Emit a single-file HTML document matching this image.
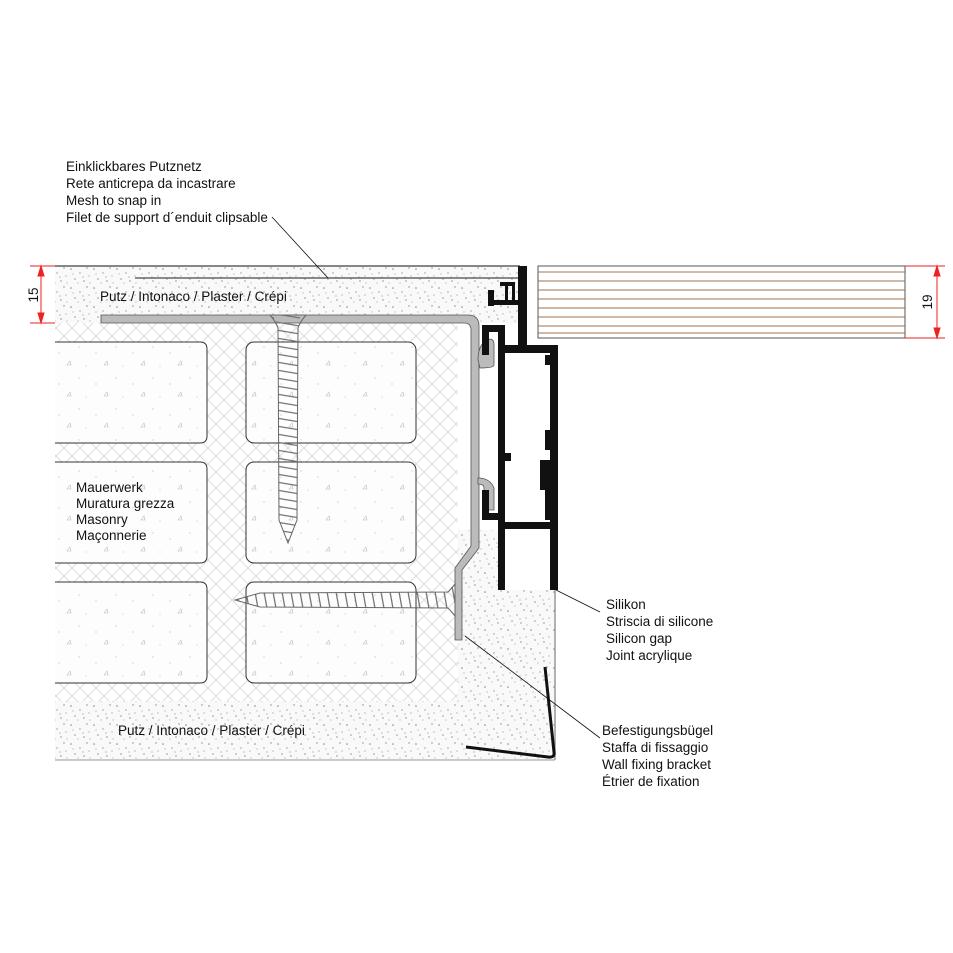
<!DOCTYPE html>
<html><head><meta charset="utf-8"><style>
html,body{margin:0;padding:0;background:#fff}
svg{display:block}
text{font-family:"Liberation Sans",sans-serif;font-size:13.5px;fill:#111}
</style></head><body>
<svg width="953" height="953" viewBox="0 0 953 953" xmlns="http://www.w3.org/2000/svg">
<defs>
<pattern id="dots" width="23" height="19" patternUnits="userSpaceOnUse">
<rect width="23" height="19" fill="#f9f9f9"/>
<circle cx="2" cy="3" r="0.8" fill="#888"/><circle cx="11" cy="7" r="0.7" fill="#999"/>
<circle cx="18" cy="2" r="0.7" fill="#888"/><circle cx="6" cy="13" r="0.8" fill="#999"/>
<circle cx="15" cy="15" r="0.7" fill="#888"/><circle cx="20" cy="10" r="0.6" fill="#999"/>
<circle cx="9" cy="17" r="0.6" fill="#aaa"/><circle cx="4" cy="8" r="0.6" fill="#aaa"/>
<circle cx="14" cy="11" r="0.6" fill="#999"/><circle cx="21" cy="17" r="0.6" fill="#aaa"/>
</pattern>
<pattern id="bdots" width="37" height="31" patternUnits="userSpaceOnUse">
<rect width="37" height="31" fill="#fdfdfd"/>
<circle cx="5" cy="6" r="0.6" fill="#bbb"/><circle cx="22" cy="12" r="0.6" fill="#bbb"/>
<path d="M30 24 l3 -4 l1 4z" fill="none" stroke="#bbb" stroke-width="0.6"/>
<circle cx="12" cy="25" r="0.6" fill="#ccc"/>
</pattern>
<pattern id="hatch" width="16" height="16" patternUnits="userSpaceOnUse">
<rect width="16" height="16" fill="#fff"/>
<path d="M0 0L16 16M16 0L0 16" stroke="#ddd" stroke-width="1"/>
</pattern>
<pattern id="threadV" width="26" height="8" patternUnits="userSpaceOnUse" x="275" y="0">
<path d="M1 2 L25 6" stroke="#777" stroke-width="1.3" fill="none"/>
</pattern>
<pattern id="threadH" width="9" height="30" patternUnits="userSpaceOnUse" x="0" y="585">
<path d="M2 1 L7 29" stroke="#777" stroke-width="1.3" fill="none"/>
</pattern>
</defs>

<rect x="55" y="266" width="465" height="57" fill="url(#dots)"/>
<line x1="55" y1="266" x2="520" y2="266" stroke="#111" stroke-width="1"/>
<line x1="135" y1="278" x2="520" y2="278" stroke="#666" stroke-width="1.5"/>
<rect x="55" y="323" width="403" height="378" fill="url(#hatch)"/>
<path d="M458 530 L505 530 L505 590 L555 590 L555 760 L55 760 L55 701 L450 701 Q458 701 458 693Z" fill="url(#dots)"/>
<line x1="555" y1="590" x2="555" y2="760" stroke="#999" stroke-width="1.5"/>
<line x1="55" y1="760" x2="555" y2="760" stroke="#999" stroke-width="1"/>
<g fill="url(#bdots)" stroke="#333" stroke-width="1">
<path d="M55 342 H200 Q207 342 207 349 V436 Q207 443 200 443 H55"/>
<rect x="246" y="342" width="170" height="101" rx="8"/>
<path d="M55 462 H200 Q207 462 207 469 V556 Q207 563 200 563 H55"/>
<rect x="246" y="462" width="170" height="101" rx="8"/>
<path d="M55 582 H200 Q207 582 207 589 V676 Q207 683 200 683 H55"/>
<rect x="246" y="582" width="170" height="101" rx="8"/>
</g>
<path d="M101 323 V315 H468 Q479 315 479 326 V548 L462 570 V640 H455 V568 L471 546 V330 Q471 323 464 323 Z" fill="#bbb" stroke="#555" stroke-width="0.8"/>
<path d="M478 360 Q478 345 487 340 Q494 337 494 345 V365 Q494 368 480 368Z" fill="#bbb" stroke="#555" stroke-width="0.8"/>
<path d="M478 478 Q490 478 494 488 V510 H484 V488 Q484 484 478 484Z" fill="#bbb" stroke="#555" stroke-width="0.8"/>
<path d="M270 315 H306 Q300 322 298 328 L297 520 L288 543 L279 520 L278 328 Q276 322 270 315Z" fill="url(#threadV)" stroke="#666" stroke-width="1"/>
<path d="M455 584 Q450 590 448 592 L260 593 L235 600 L260 607 L448 608 Q450 610 455 616Z" fill="url(#threadH)" stroke="#666" stroke-width="1"/>
<g fill="#111">
<rect x="518" y="266" width="9" height="80"/>
<rect x="482" y="325" width="23" height="7"/>
<rect x="482" y="325" width="7" height="30"/>
<rect x="482" y="490" width="7" height="30"/>
<rect x="482" y="513" width="23" height="7"/>
<rect x="498" y="325" width="7" height="265"/>
<rect x="505" y="345" width="53" height="8"/>
<rect x="550" y="345" width="8" height="245"/>
<rect x="505" y="522" width="53" height="7"/>
<rect x="545" y="355" width="6" height="10"/>
<rect x="545" y="430" width="6" height="20"/>
<path d="M540 460 H552 L556 468 L552 476 L556 484 L552 492 L556 500 L552 508 L556 516 L552 520 H545 V490 H540Z"/>
<rect x="505" y="453" width="6" height="8"/>
<rect x="488" y="290" width="6" height="16"/>
<rect x="488" y="300" width="32" height="5"/>
<path d="M500 282 H515 V300 H512 V286 H508 V300 H505 V286 H500Z"/>
</g>
<rect x="538" y="266" width="367" height="72" fill="#fff" stroke="#555" stroke-width="1"/>
<g stroke="#a0704a" stroke-width="1">
<line x1="538" y1="272" x2="905" y2="272"/><line x1="538" y1="281" x2="905" y2="281"/>
<line x1="538" y1="290" x2="905" y2="290"/><line x1="538" y1="299" x2="905" y2="299"/>
<line x1="538" y1="308" x2="905" y2="308"/><line x1="538" y1="317" x2="905" y2="317"/>
<line x1="538" y1="326" x2="905" y2="326"/><line x1="538" y1="333" x2="905" y2="333"/>
</g>
<path d="M545 667 L554 752 Q555 758 548 757 L466 747" fill="none" stroke="#111" stroke-width="3"/>
<g stroke="#e22" stroke-width="1" fill="#e22">
<line x1="41" y1="266" x2="41" y2="323"/>
<line x1="30" y1="266" x2="55" y2="266"/><line x1="30" y1="323" x2="55" y2="323"/>
<path d="M41 266 l-3 10 h6z"/><path d="M41 323 l-3 -10 h6z"/>
<line x1="937" y1="266" x2="937" y2="338"/>
<line x1="905" y1="266" x2="945" y2="266"/><line x1="905" y1="338" x2="945" y2="338"/>
<path d="M937 266 l-3 10 h6z"/><path d="M937 338 l-3 -10 h6z"/>
</g>
<text transform="translate(38,295) rotate(-90)" text-anchor="middle" font-size="14">15</text>
<text transform="translate(932,302) rotate(-90)" text-anchor="middle" font-size="14">19</text>
<g stroke="#111" stroke-width="0.8" fill="none">
<path d="M272 217 L328 278"/>
<path d="M556 590 L600 612"/>
<path d="M465 636 L600 738"/>
</g>
<text x="66" y="171">Einklickbares Putznetz</text>
<text x="66" y="188">Rete anticrepa da incastrare</text>
<text x="66" y="205">Mesh to snap in</text>
<text x="66" y="222">Filet de support d´enduit clipsable</text>
<text x="100" y="301">Putz / Intonaco / Plaster / Crépi</text>
<text x="118" y="735">Putz / Intonaco / Plaster / Crépi</text>
<text x="76" y="492">Mauerwerk</text>
<text x="76" y="508">Muratura grezza</text>
<text x="76" y="524">Masonry</text>
<text x="76" y="540">Maçonnerie</text>
<text x="606" y="609">Silikon</text>
<text x="606" y="626">Striscia di silicone</text>
<text x="606" y="643">Silicon gap</text>
<text x="606" y="660">Joint acrylique</text>
<text x="602" y="735">Befestigungsbügel</text>
<text x="602" y="752">Staffa di fissaggio</text>
<text x="602" y="769">Wall fixing bracket</text>
<text x="602" y="786">Étrier de fixation</text>
</svg>
</body></html>
